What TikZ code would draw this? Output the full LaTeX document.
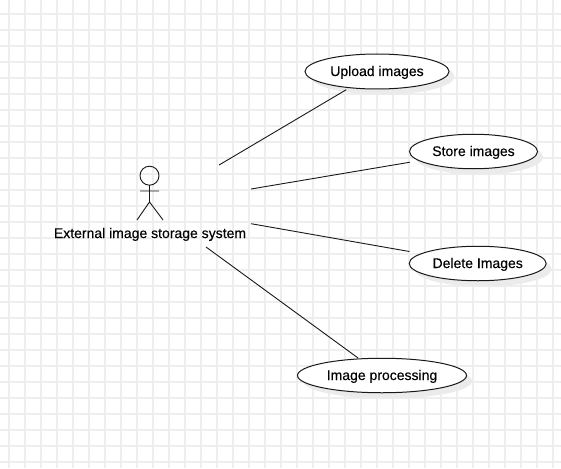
\documentclass[tikz,border=0pt]{standalone}
\usepackage{fontspec}
\setmainfont[FakeBold=0.2]{Liberation Sans}
\usetikzlibrary{shapes.geometric}
\begin{document}
\begin{tikzpicture}[x=1pt,y=-1pt,
  gridline/.style={draw=black!6.5,line width=1.5pt},
  usecase/.style={ellipse,draw=black!90,line width=1pt,fill=white,inner sep=0pt,outer sep=0pt,text depth=0pt,font=\fontsize{14}{16}\selectfont},
  casetext/.style={inner sep=0pt,font=\fontsize{14}{16}\selectfont,anchor=base},
  caseshadow/.style={fill=black!8},
  conn/.style={draw=black!90,line width=0.9pt},
  figure/.style={draw=black!90,line width=0.9pt},
  lbl/.style={inner sep=0pt,font=\fontsize{14}{16}\selectfont,anchor=base}]
\useasboundingbox (0,0) rectangle (561,468);
\fill[white] (0,0) rectangle (561,468);
\foreach \i in {0,...,34} {\draw[gridline] ({9+16*\i},0) -- ({9+16*\i},468);}
\foreach \j in {0,...,28} {\draw[gridline] (0,{14+16*\j}) -- (561,{14+16*\j});}
% shadows
\fill[caseshadow] (382.5,76.5) ellipse [x radius=72pt,y radius=18pt];
\fill[caseshadow] (479,157) ellipse [x radius=64pt,y radius=17.5pt];
\fill[caseshadow] (483,269) ellipse [x radius=68.5pt,y radius=17.5pt];
\fill[caseshadow] (387.5,381) ellipse [x radius=84.5pt,y radius=17.5pt];
% use cases
\node[usecase,minimum width=144pt,minimum height=35pt] (upload) at (377,71.5) {};
\node[usecase,minimum width=128pt,minimum height=34.5pt] (store) at (473.5,151.5) {};
\node[usecase,minimum width=137pt,minimum height=34.5pt] (delete) at (477.7,263.5) {};
\node[usecase,minimum width=169pt,minimum height=34.5pt] (process) at (382,375.5) {};
\node[casetext] (uploadtext) at (377,76) {Upload images};
\node[casetext] (storetext) at (473.5,156) {Store images};
\node[casetext] (deletetext) at (477.7,268) {Delete Images};
\node[casetext] (processtext) at (382,380) {Image processing};
% actor
\node[minimum width=202pt,minimum height=82pt,inner sep=0pt,outer sep=0pt] (actor) at (150,206) {};
\node[lbl] (actorlabel) at (150,238) {External image storage system};
\draw[figure] (149.5,175.7) circle [radius=9.5pt];
\draw[figure] (149.5,185.2) -- (149.5,202) (140,191) -- (159,191) (137,220) -- (149.5,202) -- (163,220);
% connectors
\draw[conn,shorten >=4pt] (actor) -- (upload);
\draw[conn,shorten >=9.5pt] (actor) -- (store);
\draw[conn,shorten >=12.2pt] (actor) -- (delete);
\draw[conn,shorten >=1.5pt] (actor) -- (process);
\end{tikzpicture}
\end{document}
